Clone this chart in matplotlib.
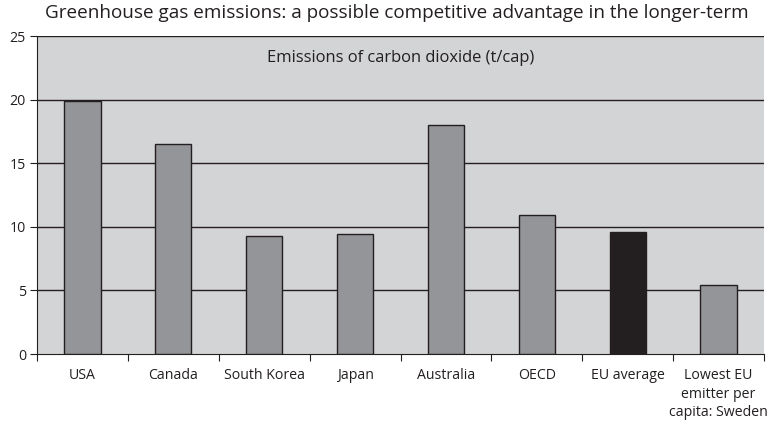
import matplotlib
matplotlib.use("Agg")
import matplotlib.pyplot as plt
import numpy as np

plt.rcParams['font.family'] = ['Open Sans', 'DejaVu Sans']

categories = ["USA", "Canada", "South Korea", "Japan", "Australia", "OECD",
              "EU average", "Lowest EU\nemitter per\ncapita: Sweden"]
values = [19.9, 16.5, 9.3, 9.4, 18.0, 10.95, 9.6, 5.4]
highlight = "EU average"
yticks = [0, 5, 10, 15, 20, 25]

fig = plt.figure(figsize=(7.76, 4.22), dpi=100)
ax = fig.add_axes([37/776, 68/422, (764-37)/776, (354-36)/422])
ax.set_facecolor('#d3d4d6')

x = np.arange(len(categories))
colors = ['#231f20' if c == highlight else '#939598' for c in categories]
ax.bar(x, values, width=0.4, color=colors, edgecolor='#231f20', linewidth=1.0, zorder=3)

ax.set_xlim(-0.5, len(categories) - 0.5)
ax.set_ylim(0, 25)
ax.set_yticks(yticks)
ax.set_yticklabels([str(t) for t in yticks], fontsize=10.2, color='#231f20')
for t in yticks[1:]:
    ax.axhline(t, color='#231f20', linewidth=1.0, zorder=2)

ax.set_xticks(np.arange(len(categories) + 1) - 0.5)
ax.set_xticklabels([])
ax.set_xticks(x, minor=True)
ax.set_xticklabels(categories, minor=True, fontsize=10.2, color='#231f20', linespacing=1.33, va='top')
ax.tick_params(axis='x', which='major', length=5, direction='out', color='#231f20')
ax.tick_params(axis='x', which='minor', length=0, pad=10)
ax.tick_params(axis='y', length=5, direction='out', color='#231f20', pad=3)

for s in ['top', 'right']:
    ax.spines[s].set_visible(False)
ax.spines['left'].set_color('#231f20')
ax.spines['bottom'].set_color('#231f20')

ax.text(0.5, 0.93, "Emissions of carbon dioxide (t/cap)", transform=ax.transAxes,
        ha='center', va='center', fontsize=11.9, color='#231f20')
fig.text(397/776, 1 - 13/422,
         "Greenhouse gas emissions: a possible competitive advantage in the longer-term",
         ha='center', va='center', fontsize=13.6, color='#231f20')

fig.savefig("out.png", dpi=100)
